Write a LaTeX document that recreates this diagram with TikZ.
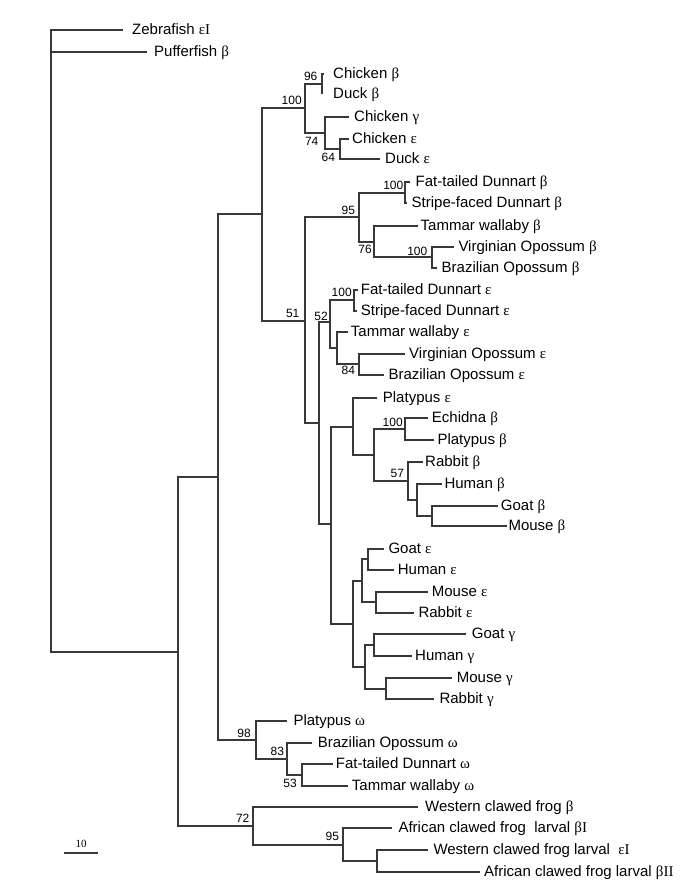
\documentclass[tikz,border=0pt]{standalone}
\usepackage{fontspec}
\setmainfont{Liberation Sans}
\newfontfamily\grkfont{Liberation Serif}
\newcommand{\gk}[1]{{\grkfont #1}}
\begin{document}
\begin{tikzpicture}[x=1pt,y=-1pt,
  br/.style={line width=2pt, draw=black!78},
  leaf/.style={anchor=west, inner sep=0pt, text height=12pt, text depth=3pt, font=\fontsize{15}{18}\selectfont},
  boot/.style={inner sep=0pt, font=\fontsize{12}{14}\selectfont},
  sbar/.style={inner sep=0pt, font=\grkfont\fontsize{11}{13}\selectfont}]
\useasboundingbox (0,0) rectangle (685,896);
% leaf line ends
\coordinate (e00) at (123,30);
\coordinate (e01) at (147,52);
\coordinate (e02) at (324,74);
\coordinate (e03) at (322,94);
\coordinate (e04) at (349,117);
\coordinate (e05) at (349,139);
\coordinate (e06) at (380,159);
\coordinate (e07) at (410,182);
\coordinate (e08) at (407,203);
\coordinate (e09) at (418,226);
\coordinate (e10) at (454,247);
\coordinate (e11) at (437,268);
\coordinate (e12) at (358,290);
\coordinate (e13) at (357,311);
\coordinate (e14) at (348,332);
\coordinate (e15) at (405,354);
\coordinate (e16) at (384,375);
\coordinate (e17) at (377,398);
\coordinate (e18) at (428,418);
\coordinate (e19) at (434,440);
\coordinate (e20) at (423,462);
\coordinate (e21) at (442,484);
\coordinate (e22) at (498,506);
\coordinate (e23) at (507,526);
\coordinate (e24) at (384,549);
\coordinate (e25) at (394,570);
\coordinate (e26) at (428,592);
\coordinate (e27) at (414,613);
\coordinate (e28) at (466,634);
\coordinate (e29) at (412,656);
\coordinate (e30) at (452,678);
\coordinate (e31) at (434,699);
\coordinate (e32) at (287,721);
\coordinate (e33) at (312,743);
\coordinate (e34) at (333,764);
\coordinate (e35) at (348,786);
\coordinate (e36) at (418,807);
\coordinate (e37) at (392,828);
\coordinate (e38) at (428,850);
\coordinate (e39) at (480,872);
% leaf labels
\node[leaf] (t00) at (132,30) {Zebrafish \gk{εI}};
\node[leaf] (t01) at (154,52) {Pufferfish \gk{β}};
\node[leaf] (t02) at (333,74) {Chicken \gk{β}};
\node[leaf] (t03) at (333,94) {Duck \gk{β}};
\node[leaf] (t04) at (354,117) {Chicken \gk{γ}};
\node[leaf] (t05) at (352,139) {Chicken \gk{ε}};
\node[leaf] (t06) at (385,159) {Duck \gk{ε}};
\node[leaf] (t07) at (415.5,182) {Fat-tailed Dunnart \gk{β}};
\node[leaf] (t08) at (411.5,203) {Stripe-faced Dunnart \gk{β}};
\node[leaf] (t09) at (420.5,226) {Tammar wallaby \gk{β}};
\node[leaf] (t10) at (458.3,247) {Virginian Opossum \gk{β}};
\node[leaf] (t11) at (441.5,268) {Brazilian Opossum \gk{β}};
\node[leaf] (t12) at (360.7,290) {Fat-tailed Dunnart \gk{ε}};
\node[leaf] (t13) at (360.7,311) {Stripe-faced Dunnart \gk{ε}};
\node[leaf] (t14) at (350.7,332) {Tammar wallaby \gk{ε}};
\node[leaf] (t15) at (409,354) {Virginian Opossum \gk{ε}};
\node[leaf] (t16) at (388.3,375) {Brazilian Opossum \gk{ε}};
\node[leaf] (t17) at (382.7,398) {Platypus \gk{ε}};
\node[leaf] (t18) at (431.7,418) {Echidna \gk{β}};
\node[leaf] (t19) at (437.3,440) {Platypus \gk{β}};
\node[leaf] (t20) at (425,462) {Rabbit \gk{β}};
\node[leaf] (t21) at (444.3,484) {Human \gk{β}};
\node[leaf] (t22) at (500.7,506) {Goat \gk{β}};
\node[leaf] (t23) at (508.3,526) {Mouse \gk{β}};
\node[leaf] (t24) at (388.3,549) {Goat \gk{ε}};
\node[leaf] (t25) at (397.7,570) {Human \gk{ε}};
\node[leaf] (t26) at (431.7,592) {Mouse \gk{ε}};
\node[leaf] (t27) at (418.3,613) {Rabbit \gk{ε}};
\node[leaf] (t28) at (471.7,634) {Goat \gk{γ}};
\node[leaf] (t29) at (415,656) {Human \gk{γ}};
\node[leaf] (t30) at (456.7,678) {Mouse \gk{γ}};
\node[leaf] (t31) at (439.3,699) {Rabbit \gk{γ}};
\node[leaf] (t32) at (293.3,721) {Platypus \gk{ω}};
\node[leaf] (t33) at (317.7,743) {Brazilian Opossum \gk{ω}};
\node[leaf] (t34) at (335.7,764) {Fat-tailed Dunnart \gk{ω}};
\node[leaf] (t35) at (351.7,786) {Tammar wallaby \gk{ω}};
\node[leaf] (t36) at (425,807) {Western clawed frog \gk{β}};
\node[leaf] (t37) at (398.3,828) {African clawed frog\ \ larval \gk{βI}};
\node[leaf] (t38) at (433.3,850) {Western clawed frog larval\ \ \gk{εI}};
\node[leaf] (t39) at (484,872) {African clawed frog larval \gk{βII}};
% internal nodes
\coordinate (R) at (51,341);
\coordinate (N1) at (178,652);
\coordinate (N2) at (218,477);
\coordinate (N3) at (262,214);
\coordinate (B100) at (305,108);
\coordinate (n96) at (322,84);
\coordinate (n74) at (325,133);
\coordinate (n64) at (340,149);
\coordinate (N51) at (305,321);
\coordinate (n95) at (359,217);
\coordinate (n100b) at (405,193);
\coordinate (n76) at (374,242);
\coordinate (n100o) at (432,257);
\coordinate (Nq) at (319,423);
\coordinate (n52) at (330,322);
\coordinate (n100e) at (354,300);
\coordinate (nTW) at (337,348);
\coordinate (n84) at (359,364);
\coordinate (Np) at (331,524);
\coordinate (nPl) at (353,427);
\coordinate (nMono) at (374,455);
\coordinate (n100m) at (405,429);
\coordinate (n57) at (408,481);
\coordinate (nHu) at (417,500);
\coordinate (nGM) at (432,516);
\coordinate (nEG) at (353,624);
\coordinate (nEps) at (362,581);
\coordinate (nGH) at (368,559);
\coordinate (nMR) at (376,602);
\coordinate (nGam) at (365,667);
\coordinate (nGHg) at (374,645);
\coordinate (nMRg) at (386,689);
\coordinate (Om98) at (256,740);
\coordinate (n83) at (287,759);
\coordinate (n53) at (302,775);
\coordinate (F72) at (253,826);
\coordinate (n95f) at (343,845);
\coordinate (nL) at (377,861);
% branches
\foreach \p/\c in {R/e00,R/e01,R/N1,N1/N2,N1/F72,N2/N3,N2/Om98,N3/B100,N3/N51,
  B100/n96,B100/n74,n96/e02,n96/e03,n74/e04,n74/n64,n64/e05,n64/e06,
  N51/n95,N51/Nq,n95/n100b,n95/n76,n100b/e07,n100b/e08,n76/e09,n76/n100o,n100o/e10,n100o/e11,
  Nq/n52,Nq/Np,n52/n100e,n52/nTW,n100e/e12,n100e/e13,nTW/e14,nTW/n84,n84/e15,n84/e16,
  Np/nPl,Np/nEG,nPl/e17,nPl/nMono,nMono/n100m,nMono/n57,n100m/e18,n100m/e19,
  n57/e20,n57/nHu,nHu/e21,nHu/nGM,nGM/e22,nGM/e23,
  nEG/nEps,nEG/nGam,nEps/nGH,nEps/nMR,nGH/e24,nGH/e25,nMR/e26,nMR/e27,
  nGam/nGHg,nGam/nMRg,nGHg/e28,nGHg/e29,nMRg/e30,nMRg/e31,
  Om98/e32,Om98/n83,n83/e33,n83/n53,n53/e34,n53/e35,
  F72/e36,F72/n95f,n95f/e37,n95f/nL,nL/e38,nL/e39}
  \draw[br] (\p) |- (\c);
% bootstrap values
\node[boot] (b01) at (291.7,100.7) {100};
\node[boot] (b02) at (310.7,76.7) {96};
\node[boot] (b03) at (311.7,141) {74};
\node[boot] (b04) at (328.3,157.3) {64};
\node[boot] (b05) at (348.3,210) {95};
\node[boot] (b06) at (393.3,185) {100};
\node[boot] (b07) at (365,249.3) {76};
\node[boot] (b08) at (417.3,251) {100};
\node[boot] (b09) at (292.7,313.3) {51};
\node[boot] (b10) at (321,316.7) {52};
\node[boot] (b11) at (341.7,292.7) {100};
\node[boot] (b12) at (348.3,370.7) {84};
\node[boot] (b13) at (392.7,422.3) {100};
\node[boot] (b14) at (397.3,473.3) {57};
\node[boot] (b15) at (244,733.3) {98};
\node[boot] (b16) at (277.3,751.7) {83};
\node[boot] (b17) at (290,783.3) {53};
\node[boot] (b18) at (242.7,818.3) {72};
\node[boot] (b19) at (332.3,836.7) {95};
% scale bar
\coordinate (sbL) at (64,853);
\coordinate (sbR) at (98,853);
\draw[br] (sbL) -- (sbR);
\node[sbar] (sbT) at (81,844) {10};
\end{tikzpicture}
\end{document}
